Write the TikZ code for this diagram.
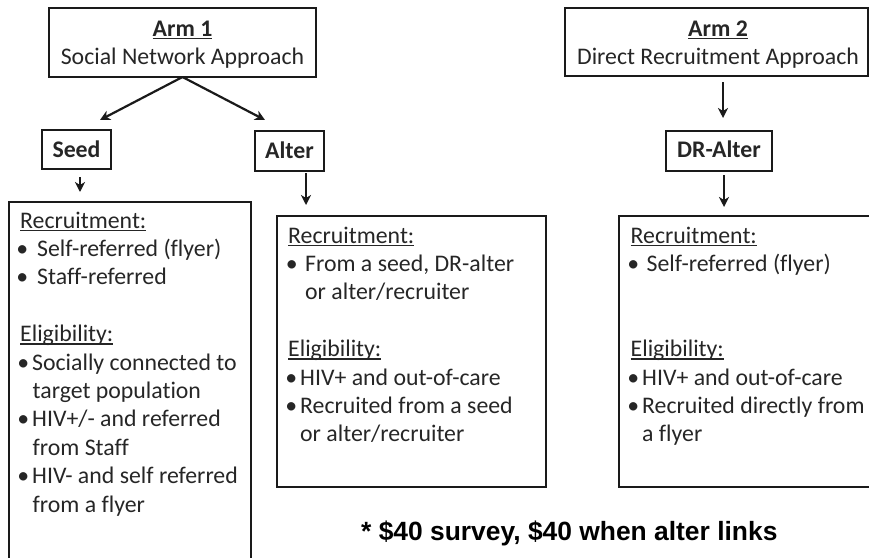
\documentclass[tikz,border=0pt]{standalone}
\usepackage{fontspec}
\setmainfont{Carlito}[Ligatures={NoCommon}]
\newfontfamily\arialfont{Liberation Sans}
\usetikzlibrary{arrows.meta}
\definecolor{boxc}{HTML}{1A1A1A}
\definecolor{txtc}{HTML}{262626}
\newsavebox\ulbox
\newcommand\ulx[1]{\sbox\ulbox{#1}\usebox\ulbox\kern-\wd\ulbox\rule[-3.2pt]{\wd\ulbox}{1.4pt}}
\newcommand\bul[1]{\makebox[0pt]{\textbullet}\hspace{#1}}
\begin{document}
\begin{tikzpicture}[x=1pt,y=-1pt,
  box/.style={draw=boxc, line width=2.6pt, anchor=north west, inner sep=0pt, outer sep=0pt},
  txt/.style={inner sep=0pt, anchor=base west, text=txtc, font=\fontsize{23.8}{28.4}\selectfont},
  ctxt/.style={txt, anchor=base},
  arr/.style={draw=boxc, line width=2.2pt, -{Stealth[length=10pt,width=10pt,inset=3pt]}}]
\useasboundingbox (0,0) rectangle (869,557);
% boxes
\node[box, minimum width=267pt, minimum height=69pt] (arm1) at (49,8) {};
\node[box, minimum width=303pt, minimum height=68pt] (arm2) at (565,8) {};
\node[box, minimum width=69pt, minimum height=39pt] (seed) at (42,130) {};
\node[box, minimum width=69pt, minimum height=40pt] (alter) at (255,131) {};
\node[box, minimum width=106pt, minimum height=40pt] (dralter) at (666,131) {};
\node[box, minimum width=242pt, minimum height=370pt] (lbox) at (9,202) {};
\node[box, minimum width=269pt, minimum height=271pt] (mbox) at (277,216) {};
\node[box, minimum width=270pt, minimum height=271pt] (rbox) at (619,216) {};
% titles
\node[ctxt] (t1a) at (182.5,36) {\bfseries\ulx{Arm 1}};
\node[ctxt] (t1b) at (182.5,64) {Social Network Approach};
\node[ctxt] (t2a) at (718,36) {\bfseries\ulx{Arm 2}};
\node[ctxt] (t2b) at (718,64) {Direct Recruitment Approach};
\node[ctxt] (tseed) at (76.5,157) {\bfseries Seed};
\node[ctxt] (talter) at (289.5,158) {\bfseries Alter};
\node[ctxt] (tdr) at (719,157) {\bfseries DR-Alter};
% arrows
\coordinate (a1l) at (100,120);
\coordinate (a1r) at (265,120);
\draw[arr] (arm1.south) -- (a1l);
\draw[arr] (arm1.south) -- (a1r);
\draw[arr, shorten <=8pt, shorten >=10pt] ([xshift=3.5pt]seed.south) -- ([xshift=3.5pt]seed.south |- lbox.north);
\draw[arr, shorten <=2pt, shorten >=11pt] ([xshift=16.5pt]alter.south) -- ([xshift=16.5pt]alter.south |- mbox.north);
\draw[arr, shorten <=6pt, shorten >=13pt] ([xshift=6.5pt]arm2.south) -- ([xshift=6.5pt]arm2.south |- dralter.north);
\draw[arr, shorten <=4pt, shorten >=9pt] ([xshift=5pt]dralter.south) -- ([xshift=5pt]dralter.south |- rbox.north);
% left box text
\node[txt] (l1) at (20,228) {\ulx{Recruitment:}};
\node[txt] (l2) at (22,256.4) {\bul{15pt}Self-referred (flyer)};
\node[txt] (l3) at (22,284.8) {\bul{15pt}Staff-referred};
\node[txt] (l4) at (20,341.6) {\ulx{Eligibility:}};
\node[txt] (l5) at (23,370) {\bul{9pt}Socially connected to};
\node[txt] (l6) at (32.5,398.4) {target population};
\node[txt] (l7) at (23,426.8) {\bul{9pt}HIV+/- and referred};
\node[txt] (l8) at (32.5,455.2) {from Staff};
\node[txt] (l9) at (23,483.6) {\bul{9pt}HIV- and self referred};
\node[txt] (l10) at (32.5,512) {from a flyer};
% middle box text
\node[txt] (m1) at (288,243) {\ulx{Recruitment:}};
\node[txt] (m2) at (291.5,271.4) {\bul{13.5pt}From a seed, DR-alter};
\node[txt] (m3) at (305,299.8) {or alter/recruiter};
\node[txt] (m4) at (288,356.6) {\ulx{Eligibility:}};
\node[txt] (m5) at (291,385) {\bul{9pt}HIV+ and out-of-care};
\node[txt] (m6) at (291,413.4) {\bul{9pt}Recruited from a seed};
\node[txt] (m7) at (300,441.8) {or alter/recruiter};
% right box text
\node[txt] (r1) at (630.5,243) {\ulx{Recruitment:}};
\node[txt] (r2) at (633,271.4) {\bul{13.5pt}Self-referred (flyer)};
\node[txt] (r3) at (630.5,356.6) {\ulx{Eligibility:}};
\node[txt] (r4) at (633,385) {\bul{9pt}HIV+ and out-of-care};
\node[txt] (r5) at (633,413.4) {\bul{9pt}Recruited directly from};
\node[txt] (r6) at (642,441.8) {a flyer};
% footnote
\node[inner sep=0pt, anchor=base west, font=\arialfont\bfseries\fontsize{26.4}{30}\selectfont] (note) at (361,540) {* \$40 survey, \$40 when alter links};
\end{tikzpicture}
\end{document}
